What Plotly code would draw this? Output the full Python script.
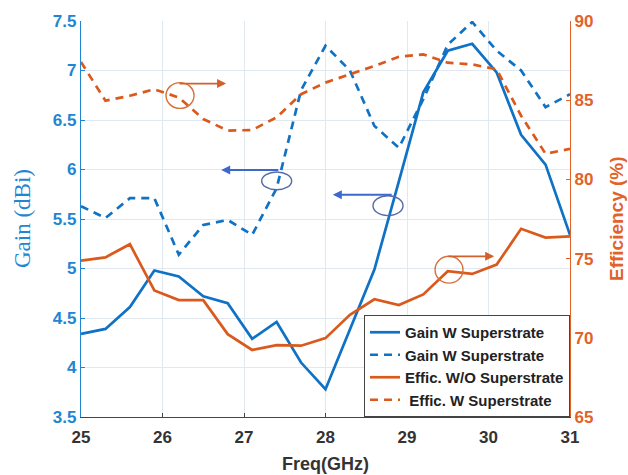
import plotly.graph_objects as go

freq = [25.0, 25.3, 25.6, 25.9, 26.2, 26.5, 26.8, 27.1, 27.4, 27.7, 28.0,
        28.3, 28.6, 28.9, 29.2, 29.5, 29.8, 30.1, 30.4, 30.7, 31.0]

gain_w_solid = [4.34, 4.39, 4.61, 4.98, 4.92, 4.72, 4.65, 4.29, 4.46, 4.05, 3.78,
                4.38, 4.99, 5.88, 6.78, 7.20, 7.27, 6.98, 6.35, 6.05, 5.34]
gain_w_dash = [5.63, 5.51, 5.71, 5.71, 5.14, 5.44, 5.49, 5.34, 5.81, 6.80, 7.25,
               7.00, 6.44, 6.22, 6.71, 7.26, 7.49, 7.20, 7.00, 6.63, 6.76]
effic_wo = [74.87, 75.08, 75.91, 72.99, 72.38, 72.38, 70.23, 69.23, 69.54, 69.50, 69.98,
            71.45, 72.43, 72.07, 72.74, 74.20, 74.03, 74.62, 76.88, 76.33, 76.40]
effic_w = [87.41, 84.97, 85.28, 85.69, 85.17, 83.81, 83.08, 83.12, 83.92, 85.38, 86.11,
           86.63, 87.16, 87.74, 87.89, 87.37, 87.26, 86.95, 84.02, 81.62, 81.93]

names = ["Gain W Superstrate", "Gain W Superstrate",
         "Effic. W/O Superstrate", " Effic. W Superstrate"]

BLUE = "#0F72C4"
ORANGE = "#DA5A1E"
BLUE_TXT = "#1E86D2"
ORANGE_TXT = "#E2622A"
GRID = "#E1E8EF"
FONT = "Liberation Sans, Arial, sans-serif"

fig = go.Figure()
fig.add_trace(go.Scatter(x=freq, y=gain_w_solid, name=names[0], mode="lines",
                         line=dict(color=BLUE, width=2.7)))
fig.add_trace(go.Scatter(x=freq, y=gain_w_dash, name=names[1], mode="lines",
                         line=dict(color=BLUE, width=2.7, dash="8px,6px")))
fig.add_trace(go.Scatter(x=freq, y=effic_wo, name=names[2], mode="lines", yaxis="y2",
                         line=dict(color=ORANGE, width=2.7)))
fig.add_trace(go.Scatter(x=freq, y=effic_w, name=names[3], mode="lines", yaxis="y2",
                         line=dict(color=ORANGE, width=2.7, dash="8px,6px")))

# circles (data coords on left axis)
circles = [
    (26.043, 26.387, 6.617, 6.878, "#D8703A"),
    (27.217, 27.585, 5.795, 5.975, "#566AA8"),
    (28.583, 28.951, 5.534, 5.735, "#566AA8"),
    (29.344, 29.687, 4.852, 5.123, "#D8703A"),
]
shapes = []
for x0, x1, y0, y1, c in circles:
    shapes.append(dict(type="circle", xref="x", yref="y", x0=x0, x1=x1, y0=y0, y1=y1,
                       line=dict(color=c, width=1.4)))

arrows = [
    (26.19, 26.78, 6.868, "#D2602A"),
    (27.44, 26.72, 5.995, "#3F68CF"),
    (28.83, 28.09, 5.745, "#3F68CF"),
    (29.49, 30.07, 5.123, "#D2602A"),
]
annotations = []
for xs, xe, yy, c in arrows:
    annotations.append(dict(x=xe, y=yy, ax=xs, ay=yy, xref="x", yref="y", axref="x", ayref="y",
                            text="", showarrow=True, arrowhead=2, arrowsize=1,
                            arrowwidth=1.8, arrowcolor=c))

annotations += [
    dict(text="Gain (dBi)", x=0, y=0.5, xref="paper", yref="paper", xshift=-59,
         textangle=-90, showarrow=False, xanchor="center", yanchor="middle",
         font=dict(family="Liberation Serif, Times New Roman, serif", size=23, color=BLUE_TXT)),
    dict(text="Efficiency (%)", x=1, y=0.5, xref="paper", yref="paper", xshift=46,
         textangle=-90, showarrow=False, xanchor="center", yanchor="middle",
         font=dict(family=FONT, size=19, color=ORANGE_TXT, weight="bold")),
    dict(text="Freq(GHz)", x=0.5, y=0, xref="paper", yref="paper", yshift=-47,
         showarrow=False, xanchor="center", yanchor="middle",
         font=dict(family=FONT, size=18, color="#333333", weight="bold")),
]

fig.update_layout(
    width=628, height=475,
    margin=dict(l=81, r=58, t=18, b=58),
    paper_bgcolor="white", plot_bgcolor="white",
    showlegend=True,
    legend=dict(x=1, y=0, xanchor="right", yanchor="bottom",
                bgcolor="white", bordercolor="#444444", borderwidth=1,
                font=dict(family=FONT, size=15, color="#222222", weight="bold"),
                tracegroupgap=0, itemwidth=30),
    xaxis=dict(range=[25, 31], dtick=1, tick0=25, showgrid=True, gridcolor=GRID,
               showline=True, linecolor="#444444", linewidth=1.2, zeroline=False,
               ticks="inside", ticklen=4, tickcolor="#444444", ticklabelstandoff=4,
               tickfont=dict(family=FONT, size=17, color="#333333", weight="bold")),
    yaxis=dict(range=[3.5, 7.5], dtick=0.5, tick0=3.5, showgrid=True, gridcolor=GRID,
               showline=True, linecolor=BLUE_TXT, linewidth=1.2, zeroline=False,
               ticks="inside", ticklen=4, tickcolor=BLUE_TXT,
               tickfont=dict(family=FONT, size=17, color=BLUE_TXT, weight="bold")),
    yaxis2=dict(range=[65, 90], dtick=5, tick0=65, overlaying="y", side="right",
                showgrid=False, showline=True, linecolor=ORANGE_TXT, linewidth=1.2,
                zeroline=False, ticks="inside", ticklen=4, tickcolor=ORANGE_TXT,
                tickfont=dict(family=FONT, size=17, color=ORANGE_TXT, weight="bold")),
    shapes=shapes,
    annotations=annotations,
)

fig.write_html("out.html")
